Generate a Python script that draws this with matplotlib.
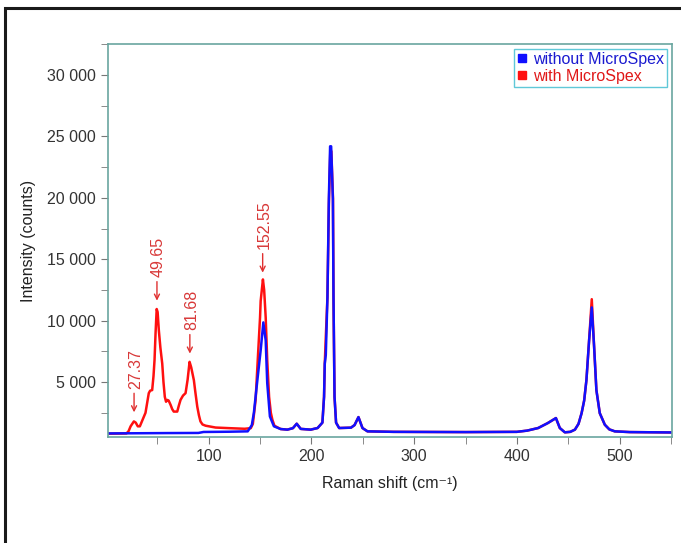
import numpy as np
import matplotlib
matplotlib.use('Agg')
import matplotlib.pyplot as plt
from matplotlib.patches import Rectangle
from matplotlib.ticker import MultipleLocator, FuncFormatter

# spectrum: Raman shift (cm-1) / intensity (counts)
blue_x = [2, 20, 60, 90, 95, 120, 138, 142, 144, 147.4, 150.6, 153.2, 155.5, 157,
          159.6, 163.5, 170, 176.6, 182, 185.7, 189.6, 199.3, 206, 210.7, 212.3,
          213, 214, 215.6, 217, 218.2, 219.2, 220.9, 221.5, 222.5, 224, 227, 238.5,
          242, 245.8, 249.7, 254.6, 280, 350, 400, 410, 420.7, 430, 438, 441.8,
          446.7, 452, 456.5, 460, 463, 465.5, 467.7, 470.3, 472.9, 475.2, 477.4,
          480.7, 485.6, 490, 495.3, 510, 551]
blue_y = [820, 830, 850, 860, 940, 960, 990, 1500, 2500, 5160, 7580, 9860, 8390, 4920,
          2200, 1400, 1180, 1130, 1250, 1610, 1190, 1130, 1260, 1700, 3800,
          6500, 7200, 11900, 20000, 24200, 24200, 19950, 11900, 3800, 1700, 1260, 1290,
          1500, 2150, 1260, 990, 950, 930, 950, 1050, 1260, 1660, 2070, 1260,
          910, 950, 1130, 1600, 2470, 3500, 5160, 8390, 11080, 7850, 4350,
          2470, 1530, 1150, 990, 930, 900]

red_x = [2, 20, 22, 24, 27.2, 29, 31, 33, 35, 38.5, 40.5, 41.7, 43, 45, 46.3, 47.3,
         48.3, 49.4, 50.3, 51.5, 53, 54.8, 56, 57.3, 58.5, 59.6, 61, 62.9, 64.5, 66,
         69.4, 71, 72.6, 75, 77.5, 79.5, 81.4, 83, 85.6, 87, 88.9, 90.5, 92, 94, 97,
         106.7, 120, 135, 141, 143, 145.7, 147.4, 150, 150.6, 152.8, 154, 155.5, 157,
         158.8, 160.5, 162, 164, 170, 176.6, 182, 185.7, 189.6, 199.3, 206, 210.7,
         212.3, 213, 214, 215.6, 217, 218.4, 219.4, 221, 221.5, 222.5, 224, 227,
         238.5, 242, 245.8, 249.7, 254.6, 280, 350, 400, 410, 420.7, 430, 438, 441.8,
         446.7, 452, 456.5, 460, 463, 465.5, 467.7, 470.3, 472.9, 475.2, 477.4,
         480.7, 485.6, 490, 495.3, 510, 551]
red_y = [800, 820, 1000, 1400, 1800, 1700, 1400, 1400, 1800, 2500, 3500, 4100, 4300,
         4350, 5500, 6800, 9000, 10950, 10700, 9200, 7800, 6500, 5000, 3800, 3400,
         3550, 3500, 3150, 2800, 2600, 2600, 3100, 3550, 3900, 4100, 5200, 6650, 6200,
         5150, 4200, 3000, 2300, 1800, 1550, 1450, 1300, 1250, 1200, 1250, 1600, 3550,
         6240, 10270, 11600, 13360, 12500, 10270, 6770, 3800, 2500, 1935, 1450, 1180,
         1130, 1250, 1610, 1190, 1130, 1260, 1700, 3800, 6500, 8650, 11900, 19500,
         23800, 23800, 19950, 11900, 3800, 1700, 1260, 1290, 1500, 2150, 1260, 990,
         950, 930, 950, 1050, 1260, 1660, 2070, 1260, 910, 950, 1130, 1600, 2470,
         3500, 5160, 8390, 11750, 7850, 4350, 2470, 1530, 1150, 990, 930, 900]

peak_labels = ['27.37', '49.65', '81.68', '152.55']
peak_pos = [27.37, 49.65, 81.68, 152.55]

plt.rcParams['font.family'] = ['Liberation Sans', 'DejaVu Sans']

fig = plt.figure(figsize=(6.81, 5.43), dpi=100)
ax = fig.add_axes([108/681, 1-437/543, (672-108)/681, (437-44)/543])

ax.plot(red_x, red_y, color='#ff1010', lw=1.8, label='with MicroSpex')
ax.plot(blue_x, blue_y, color='#1010ff', lw=1.8, label='without MicroSpex')

for lab, px in zip(peak_labels, peak_pos):
    py = np.interp(px, red_x, red_y)
    tip = py + 750
    tail = tip + 1550
    ax.annotate('', xy=(px, tip), xytext=(px, tail),
                arrowprops=dict(arrowstyle='->', color='#e03030', lw=1.0,
                                mutation_scale=9, shrinkA=0, shrinkB=0))
    ax.text(px + 1.5, tail + 350, lab, rotation=90, ha='center', va='bottom',
            color='#d83838', fontsize=11.5)

ax.set_xlim(2, 551)
ax.set_ylim(530, 32530)
ax.xaxis.set_major_locator(MultipleLocator(100))
ax.xaxis.set_minor_locator(MultipleLocator(50))
ax.yaxis.set_major_locator(MultipleLocator(5000))
ax.yaxis.set_minor_locator(MultipleLocator(2500))
ax.yaxis.set_major_formatter(FuncFormatter(lambda v, p: f'{int(v):,}'.replace(',', ' ')))

spine_col = '#6aa6a0'
for s in ax.spines.values():
    s.set_color(spine_col)
    s.set_linewidth(1.2)
ax.tick_params(which='both', direction='out', color='#777777', labelcolor='#333333',
               labelsize=11.5)
ax.tick_params(which='major', length=5)
ax.tick_params(which='minor', length=5)

ax.set_xlabel('Raman shift (cm\u207b\u00b9)', fontsize=11.5, color='#222222', labelpad=9)
ax.set_ylabel('Intensity (counts)', fontsize=11.5, color='#222222', labelpad=8)

h, l = ax.get_legend_handles_labels()
leg = ax.legend([plt.Line2D([], [], ls='', marker='s', ms=6, color='#1010ff'),
                 plt.Line2D([], [], ls='', marker='s', ms=6, color='#ff1010')],
                ['without MicroSpex', 'with MicroSpex'],
                loc='upper right', bbox_to_anchor=(1, 1), borderaxespad=0.3,
                fancybox=False, edgecolor='#60c8d8', framealpha=1,
                handlelength=0.6, handletextpad=0.4, labelspacing=0.1,
                borderpad=0.2, fontsize=11.5)
leg.get_frame().set_linewidth(1.0)
leg.get_texts()[0].set_color('#1a1ad0')
leg.get_texts()[1].set_color('#e01818')

# outer frame of the picture
fig.add_artist(Rectangle((5/681, -0.1), 1.2, 0.1 + 1 - 8/543, transform=fig.transFigure,
                         fill=False, edgecolor='#1a1a1a', lw=2.2))

fig.savefig('out.png', dpi=100)
